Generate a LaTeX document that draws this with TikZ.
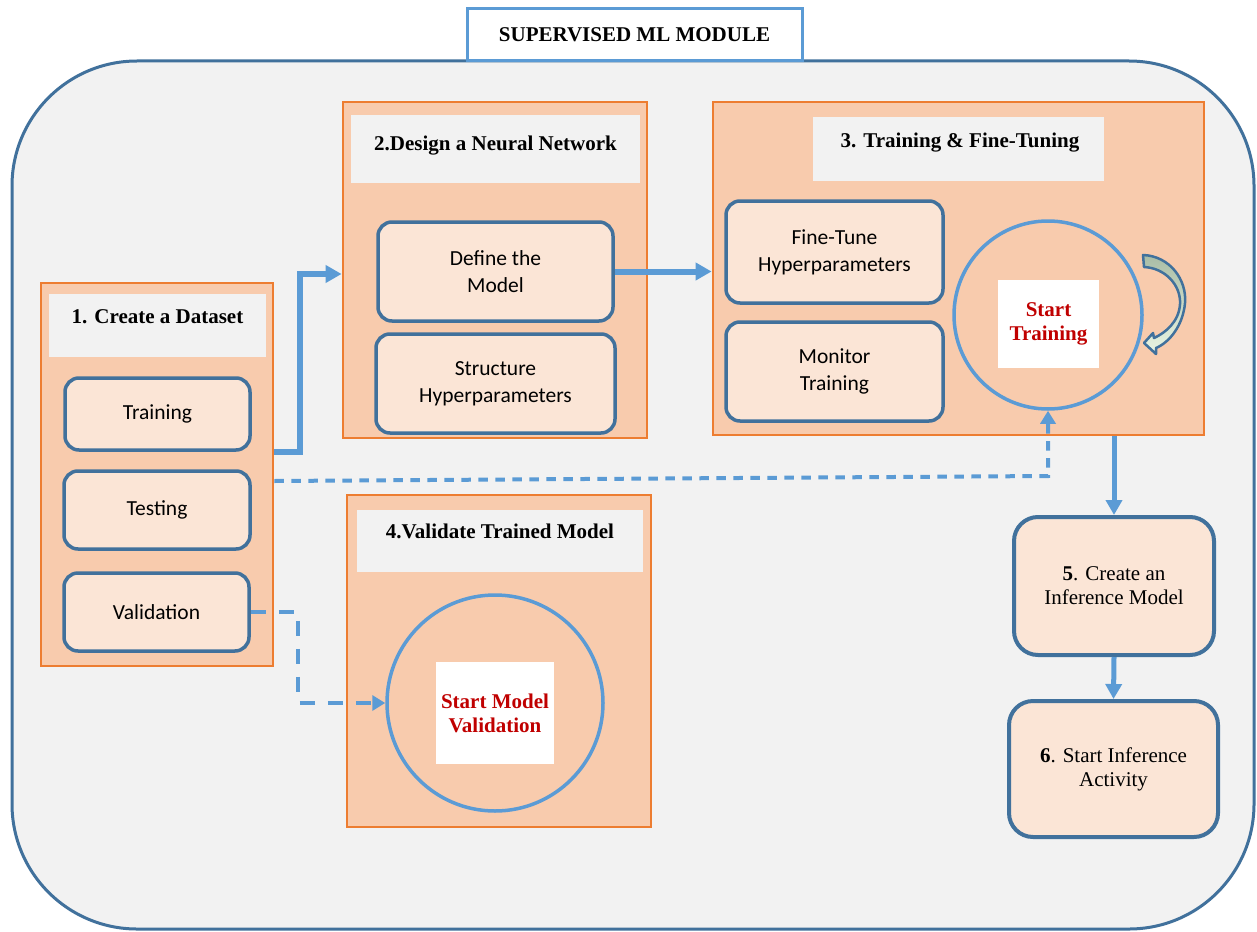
\documentclass[tikz,border=0pt]{standalone}
\usepackage{fontspec}
\setmainfont{Liberation Serif}
\newfontfamily\calibrifont{Carlito}
\usetikzlibrary{arrows.meta}

\definecolor{panelbg}{HTML}{F2F2F2}
\definecolor{panelline}{HTML}{41719C}
\definecolor{stagefill}{HTML}{F8CBAD}
\definecolor{stageline}{HTML}{ED7D31}
\definecolor{taskfill}{HTML}{FBE5D6}
\definecolor{flowblue}{HTML}{5B9BD5}
\definecolor{accentred}{HTML}{C00000}
\definecolor{loopdark}{HTML}{A9BDA6}
\definecolor{looplight}{HTML}{EAF5E3}

\tikzset{
  stagebox/.style={draw=stageline, fill=stagefill, line width=2.8pt, inner sep=0pt},
  headerbar/.style={fill=panelbg, draw=none, inner sep=0pt},
  headtext/.style={font=\fontsize{21}{25}\selectfont\bfseries, inner sep=0pt, anchor=base},
  taskbox/.style={draw=panelline, fill=taskfill, line width=3.5pt, rounded corners=14pt,
    inner sep=0pt, align=center, font=\calibrifont\fontsize{21.5}{27}\selectfont},
  stepbox/.style={draw=panelline, fill=taskfill, line width=4pt, rounded corners=24pt,
    inner sep=0pt, align=center, font=\fontsize{21}{24}\selectfont},
  ring/.style={circle, draw=flowblue, line width=3.5pt, inner sep=0pt},
  startbox/.style={fill=white, draw=none, inner sep=0pt, align=center, text=accentred,
    font=\fontsize{21}{24}\selectfont\bfseries},
  flowarrow/.style={draw=flowblue, line width=6pt,
    -{Triangle[length=16pt,width=17pt]}},
  downarrow/.style={draw=flowblue, line width=5pt,
    -{Triangle[length=15pt,width=16pt]}},
  dasharrow/.style={draw=flowblue, line width=4pt,
    -{Triangle[length=13pt,width=15pt]}},
}

\begin{document}
\begin{tikzpicture}[x=1pt, y=-1pt]
  \useasboundingbox (0,0) rectangle (1257,931);
  \fill[white] (0,0) rectangle (1257,931);

  % module frame
  \draw[draw=panelline, fill=panelbg, line width=3pt, rounded corners=125pt]
    (12,61) rectangle (1254,929);
  \node[draw=flowblue, fill=white, line width=3pt, minimum width=335pt, minimum height=52pt,
    inner sep=0pt, font=\fontsize{21}{25}\selectfont\bfseries] (title) at (634.5,34.5)
    {SUPERVISED ML MODULE};

  % 1. dataset
  \node[stagebox, minimum width=232pt, minimum height=383pt] (b1) at (157,474.5) {};
  \node[headerbar, minimum width=217pt, minimum height=63pt] (h1) at (157.5,325.5) {};
  \node[headtext] (t1) at (157.5,323) {1. Create a Dataset};
  \node[taskbox, minimum width=185pt, minimum height=72pt] (train) at (157.5,414) {Training};
  \node[taskbox, minimum width=186pt, minimum height=78pt] (test) at (157,510) {Testing};
  \node[taskbox, minimum width=185pt, minimum height=78pt] (val) at (156.5,612) {Validation};

  % 2. network design
  \node[stagebox, minimum width=304pt, minimum height=336pt] (b2) at (495,270) {};
  \node[headerbar, minimum width=289pt, minimum height=68pt] (h2) at (495.5,149) {};
  \node[headtext] (t2) at (495.5,150) {2.Design a Neural Network};
  \node[taskbox, minimum width=235pt, minimum height=99pt] (def) at (495.5,271.5) {Define the\\Model};
  \node[taskbox, minimum width=239pt, minimum height=99pt] (struct) at (495.5,383.5) {Structure\\Hyperparameters};

  % 3. training
  \node[stagebox, minimum width=491pt, minimum height=333pt] (b3) at (958.5,268.5) {};
  \node[headerbar, minimum width=291pt, minimum height=64pt] (h3) at (958.5,149) {};
  \node[headtext] (t3) at (960,147) {3. Training \& Fine-Tuning};
  \node[taskbox, minimum width=217pt, minimum height=102pt] (tune) at (834.5,252) {Fine-Tune\\Hyperparameters};
  \node[taskbox, minimum width=217pt, minimum height=99pt] (mon) at (834.5,371.5) {Monitor\\Training};
  \node[ring, minimum size=188pt] (c3) at (1048,315) {};
  \node[startbox, minimum width=101pt, minimum height=88pt] (s3) at (1048.5,324) {Start\\Training};

  % training loop arrow
  \path[draw=panelline, line width=2.5pt, line join=round, top color=loopdark, bottom color=looplight]
    (1143,255) .. controls (1170,256) and (1187,280) .. (1185,303)
    .. controls (1183,325) and (1170,342) .. (1156,348)
    -- (1156,354) -- (1144,343) -- (1153,333) -- (1154,338)
    .. controls (1165,333) and (1179,322) .. (1180,304)
    .. controls (1181,285) and (1165,268) .. (1144,267) -- cycle;

  % 4. validation
  \node[stagebox, minimum width=304pt, minimum height=332pt] (b4) at (499,661) {};
  \node[headerbar, minimum width=286pt, minimum height=62pt] (h4) at (500,541) {};
  \node[headtext] (t4) at (500,538) {4.Validate Trained Model};
  \node[ring, minimum size=216pt] (c4) at (495,703) {};
  \node[startbox, minimum width=118pt, minimum height=102pt] (s4) at (495,713) {Start Model\\Validation};

  % 5. and 6. inference
  \node[stepbox, minimum width=200pt, minimum height=138pt] (b5) at (1114,586) {\textbf{5}. Create an\\Inference Model};
  \node[stepbox, minimum width=209pt, minimum height=136pt] (b6) at (1113.5,769) {\textbf{6}. Start Inference\\Activity};

  % flow
  \coordinate (upbend) at (300,274);
  \draw[flowarrow] (b1.east |- 0,452) -| (upbend) -- (b2.west |- upbend);
  \draw[flowarrow] (def.east) -- (b3.west |- def.east);
  \draw[downarrow] (b5.north |- b3.south) -- (b5.north);
  \draw[downarrow] (b5.south) -- (b6.north);

  \draw[dasharrow, dash pattern=on 9.5pt off 7.5pt] (b1.east |- 0,481) -- (c3.south |- 0,476) -- (c3.south);
  \coordinate (valbend) at (298,703);
  \draw[dasharrow, dash pattern=on 15pt off 13pt] (val.east) -| (valbend) -- (c4.west);
\end{tikzpicture}
\end{document}
